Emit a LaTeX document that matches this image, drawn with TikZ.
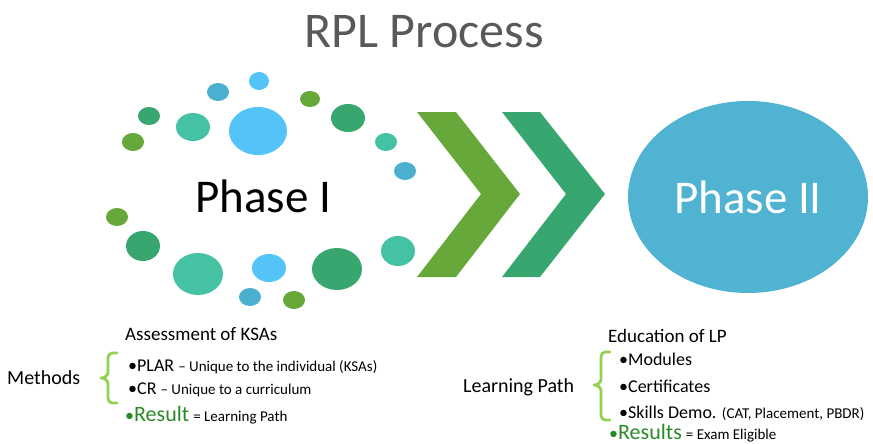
\documentclass[tikz,border=0pt]{standalone}
\usepackage{fontspec}
\setmainfont{Carlito}
\usetikzlibrary{shapes.geometric}

\definecolor{skyb}{HTML}{54C3F8}
\definecolor{tealb}{HTML}{4BB0CF}
\definecolor{leaf}{HTML}{66A83A}
\definecolor{pine}{HTML}{38A66F}
\definecolor{mint}{HTML}{45C1A4}
\definecolor{phasetwo}{HTML}{4FB3D1}
\definecolor{bracegreen}{HTML}{92D050}
\definecolor{resgreen}{HTML}{2A8A2A}
\definecolor{titlegrey}{HTML}{595959}

\tikzset{
	txt/.style = {anchor = base west, inner sep = 0pt, font = \fontsize{18}{20}\selectfont},
	curly/.style = {draw = bracegreen, line width = 2.8pt, line cap = round, line join = round}
}

\newcommand{\sm}[1]{{\fontsize{15}{17}\selectfont #1}}

\begin{document}
\begin{tikzpicture}[x = 1pt, y = -1pt]
		\useasboundingbox (0,0) rectangle (873,444);
		\node (title)[anchor = base, inner sep = 0pt, text = titlegrey, font = \fontsize{50}{54}\selectfont] at (424,48) {RPL Process};
		%
		\foreach \x/\y/\rx/\ry/\c in {259/81/10/9/skyb, 218/92/11/9/tealb, 310/99/10/8/leaf,
			149/116/11/9/pine, 193/127/17/14/mint, 258/131/29/24/skyb, 348/118/17/14/pine,
			133/142/11/9/leaf, 386/142/11/9/mint, 405/171/11/9/tealb, 117/217/11/9/leaf,
			143/246/17/15/pine, 198/274/25/21/mint, 269/268/17/14/skyb, 337/269/25/21/pine,
			398/251/17/15/mint, 250/297/11/9/tealb, 294/300/11/9/leaf}
			\fill[\c] (\x,\y) ellipse [x radius = \rx, y radius = \ry];
		\node (p1)[inner sep = 0pt, font = \fontsize{47}{50}\selectfont] at (263,196) {Phase I};
		%
		\fill[leaf] (417,112) -- (456,112) -- (520,194) -- (456,277) -- (417,277) -- (481,194) -- cycle;
		\fill[pine] (502,112) -- (540,112) -- (605,194) -- (540,277) -- (502,277) -- (566,194) -- cycle;
		%
		\node (p2)[ellipse, fill = phasetwo, minimum width = 240pt, minimum height = 192pt, inner sep = 0pt,
			text = white, font = \fontsize{47}{50}\selectfont] at (748,197) {Phase II};
		%
		\node (ksa)[txt, font = \fontsize{19}{21}\selectfont] at (125,340) {Assessment of KSAs};
		\node (meth)[txt, font = \fontsize{20}{22}\selectfont] at (7,384) {Methods};
		\node (plar)[txt] at (128,371) {•PLAR \sm{– Unique to the individual (KSAs)}};
		\node (cr)[txt] at (128,394) {•CR \sm{– Unique to a curriculum}};
		\node (res)[txt] at (125,421) {\textcolor{resgreen}{•{\fontsize{22}{24}\selectfont Result}} \sm{= Learning Path}};
		\draw[curly] (117,353) -- (112,353) to[out = 180, in = 90] (108,358) -- (108,372)
			to[out = -90, in = 0] (101,378) to[out = 0, in = 90] (108,384) -- (108,398)
			to[out = -90, in = 180] (112,403) -- (117,403);
		%
		\node (edu)[txt, font = \fontsize{19}{21}\selectfont] at (608,342) {Education of LP};
		\node (lp)[txt, font = \fontsize{20}{22}\selectfont] at (463,392) {Learning Path};
		\node (mod)[txt] at (619,365) {•Modules};
		\node (cert)[txt] at (619,392) {•Certificates};
		\node (skill)[txt] at (619,418) {•Skills Demo. \sm{(CAT, Placement, PBDR)}};
		\node (ress)[txt] at (609,439) {\textcolor{resgreen}{•{\fontsize{22}{24}\selectfont Results}} \sm{= Exam Eligible}};
		\draw[curly] (610,352) -- (605,352) to[out = 180, in = 90] (601,357) -- (601,379)
			to[out = -90, in = 0] (594,385) to[out = 0, in = 90] (601,391) -- (601,415)
			to[out = -90, in = 180] (605,420) -- (610,420);
	\end{tikzpicture}
\end{document}
